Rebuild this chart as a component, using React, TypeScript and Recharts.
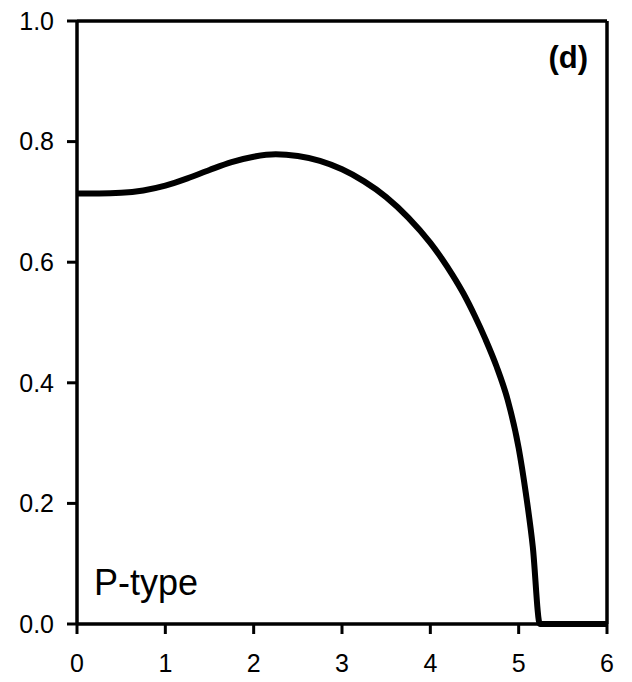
import { Customized, Line, LineChart, ReferenceLine, XAxis, YAxis } from "recharts";

const xValues = [0, 0.25, 0.5, 0.75, 1.0, 1.25, 1.5, 1.75, 2.0, 2.25, 2.5, 2.75, 3.0, 3.25, 3.5, 3.75, 4.0, 4.125, 4.25, 4.375, 4.5, 4.625, 4.75, 4.875, 5.0, 5.08, 5.16, 5.24, 5.6, 6.0];
const yValues = [0.714, 0.714, 0.715, 0.719, 0.727, 0.739, 0.753, 0.766, 0.775, 0.779, 0.776, 0.768, 0.754, 0.734, 0.708, 0.674, 0.632, 0.607, 0.579, 0.548, 0.512, 0.472, 0.427, 0.372, 0.292, 0.218, 0.128, 0.0, 0.0, 0.0];
const xTicks = [0, 1, 2, 3, 4, 5, 6];
const yTicks = [0, 0.2, 0.4, 0.6, 0.8, 1.0];
const panelLabel = "(d)";
const typeLabel = "P-type";

const data = xValues.map((x, i) => ({ x, y: yValues[i] }));

const FONT = "'Liberation Sans', Arial, sans-serif";

function Labels() {
  return (
    <g fontFamily={FONT} fill="#000">
      <text x={588} y={68} fontSize={31} fontWeight="bold" textAnchor="end">
        {panelLabel}
      </text>
      <text x={94} y={595} fontSize={36}>
        {typeLabel}
      </text>
    </g>
  );
}

export default function App() {
  return (
    <div style={{ position: "absolute", left: 0, top: 0, background: "#fff" }}>
      <LineChart width={632} height={682} data={data} margin={{ top: 21, right: 25, bottom: 0, left: 0 }}>
        <XAxis
          dataKey="x"
          type="number"
          domain={[0, 6]}
          ticks={xTicks}
          height={58}
          tickSize={10}
          tickMargin={20}
          axisLine={{ stroke: "#000", strokeWidth: 3.5 }}
          tickLine={{ stroke: "#000", strokeWidth: 3 }}
          tick={{ fill: "#000", fontSize: 25, fontFamily: FONT }}
        />
        <YAxis
          type="number"
          domain={[0, 1]}
          ticks={yTicks}
          width={77}
          tickSize={10}
          tickMargin={13}
          tickFormatter={(v: number) => v.toFixed(1)}
          axisLine={{ stroke: "#000", strokeWidth: 3.5 }}
          tickLine={{ stroke: "#000", strokeWidth: 3 }}
          tick={{ fill: "#000", fontSize: 25, fontFamily: FONT }}
        />
        <ReferenceLine y={1} stroke="#000" strokeWidth={3.5} />
        <ReferenceLine x={6} stroke="#000" strokeWidth={3.5} />
        <Line
          type="monotone"
          dataKey="y"
          stroke="#000"
          strokeWidth={6}
          dot={false}
          isAnimationActive={false}
        />
        <Customized component={Labels} />
      </LineChart>
    </div>
  );
}
